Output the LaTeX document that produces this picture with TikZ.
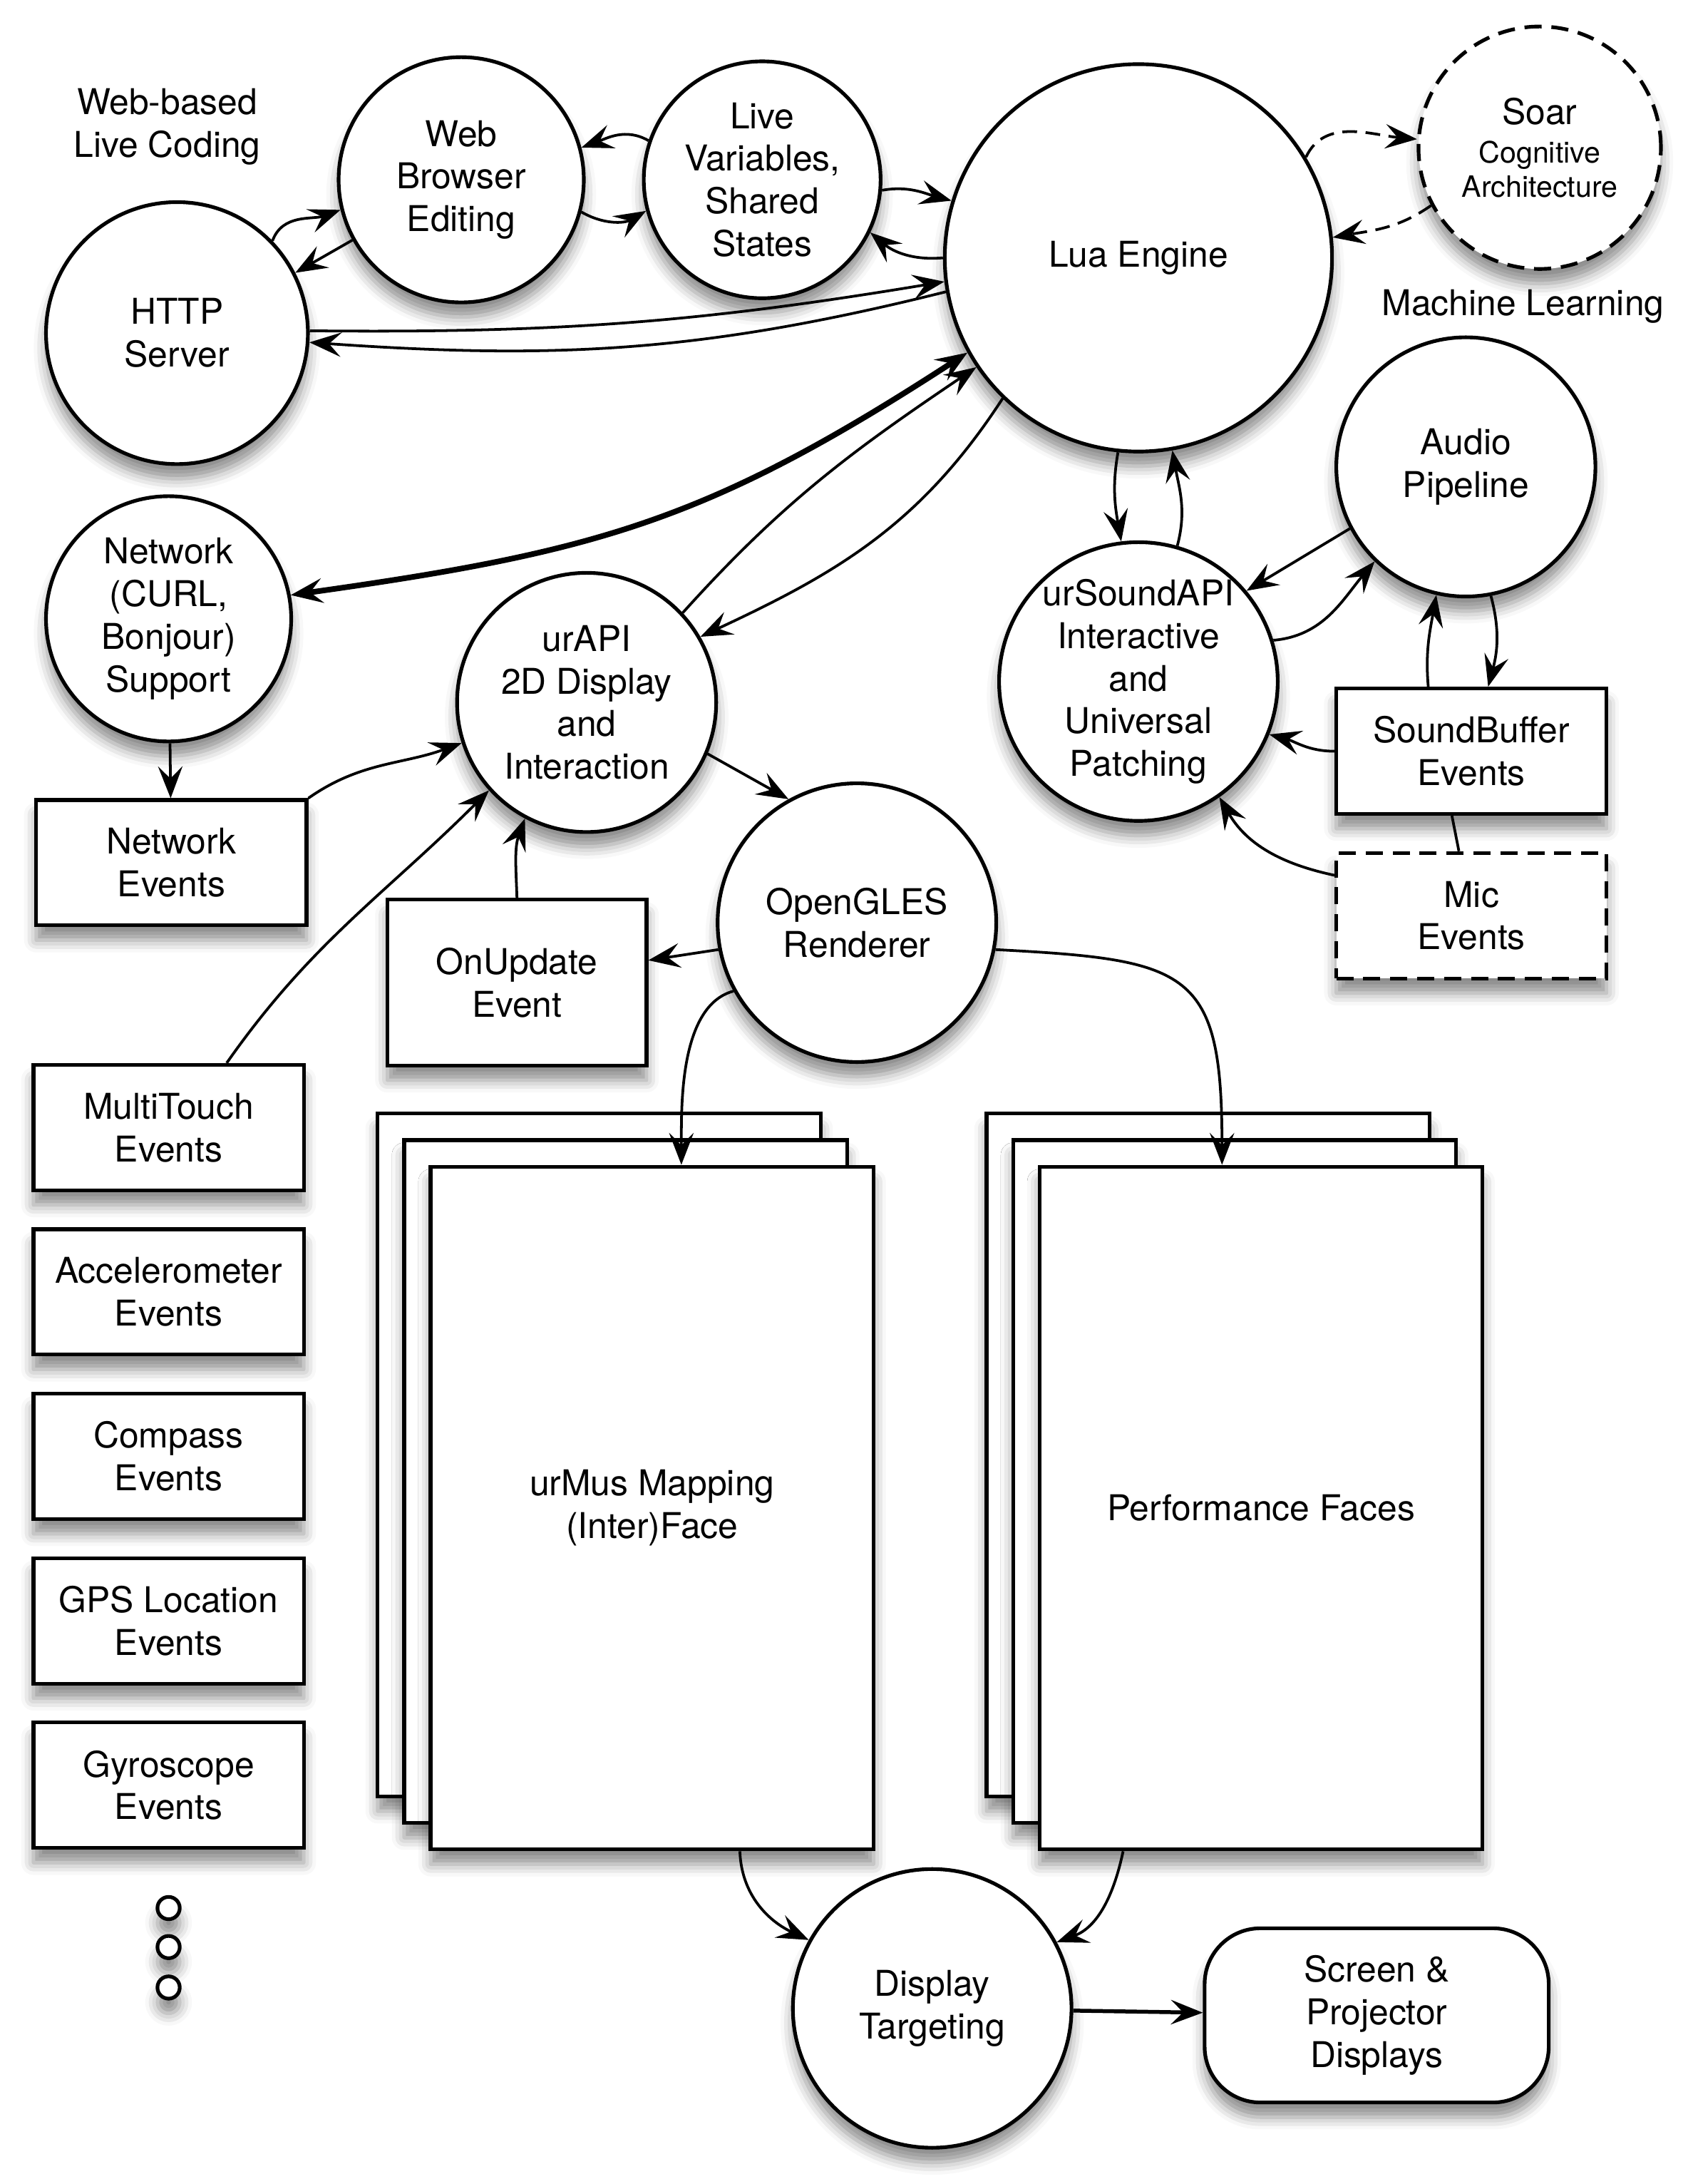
\documentclass[tikz,border=0pt]{standalone}
\usepackage{fontspec}
\setmainfont{TeX Gyre Heros}
\usetikzlibrary{arrows.meta,positioning,shadows.blur}
\newcommand{\soarsmall}[1]{{\fontsize{12}{14.4}\selectfont #1}}
\tikzset{
->, % every connector is directed
>={Stealth[length=13pt,width=10pt,inset=5pt]}, % sharp arrow heads
x=0.02cm, y=0.02cm, % one unit is one pixel of the layout
node distance=2.36cm, % spacing of the sensor event column
every node/.style={font=\fontsize{14.5}{17.4}\selectfont, align=center},
castshadow/.style={blur shadow={shadow xshift=0pt, shadow yshift=-6pt, shadow blur radius=5pt, shadow opacity=45}},
hub/.style={circle, draw, line width=1.5pt, fill=white, inner sep=0pt, castshadow}, % processing units
evbox/.style={rectangle, draw, line width=1.5pt, fill=white, minimum width=3.88cm, minimum height=1.8cm, castshadow}, % event sources
page/.style={rectangle, draw, line width=1.5pt, fill=white, minimum width=6.36cm, minimum height=9.8cm, castshadow},
dot/.style={circle, draw, line width=1.5pt, fill=white, minimum size=0.32cm, inner sep=0pt, castshadow},
dashedrim/.style={dash pattern=on 7pt off 4pt},
link/.style={line width=1.1pt},
soarlink/.style={dash pattern=on 6pt off 3.5pt},
}
\begin{document}
\begin{tikzpicture}
\useasboundingbox (0,0) rectangle (1215,-1567);
% engines and services
\node[hub, minimum size=3.76cm] (http) at (127,-239) {HTTP\\Server};
\node[hub, minimum size=3.52cm] (web) at (331,-129) {Web\\Browser\\Editing};
\node[hub, minimum size=3.4cm] (live) at (547,-129) {Live\\Variables,\\Shared\\States};
\node[hub, minimum size=5.56cm] (lua) at (817,-185) {Lua Engine};
\node[hub, dashedrim, minimum size=3.48cm] (soar) at (1105,-106) {Soar\\[-1.5pt]\soarsmall{Cognitive}\\[-3.5pt]\soarsmall{Architecture}};
\node[hub, minimum size=3.72cm] (audio) at (1052,-335) {Audio\\Pipeline};
\node[hub, minimum size=4cm, inner sep=-8pt] (ursound) at (817,-489) {urSoundAPI\\Interactive\\and\\Universal\\Patching};
\node[hub, minimum size=3.52cm] (net) at (121,-444) {Network\\(CURL,\\Bonjour)\\Support};
\node[hub, minimum size=3.72cm] (urapi) at (421,-504) {urAPI\\2D Display\\and\\Interaction};
\node[hub, minimum size=4cm] (gles) at (615,-662) {OpenGLES\\Renderer};
\node[hub, minimum size=4cm] (disp) at (669,-1441) {Display\\Targeting};
% events
\node[evbox] (netev) at (123,-619) {Network\\Events};
\node[evbox, minimum width=3.72cm, minimum height=2.38cm] (update) at (371,-705) {OnUpdate\\Event};
\node[evbox] (sndbuf) at (1056,-539) {SoundBuffer\\Events};
\node[evbox, dashedrim] (mic) at (1056,-657) {Mic\\Events};
\node[evbox] (touch) at (121,-809) {MultiTouch\\Events};
\node[evbox, below of=touch] (accel) {Accelerometer\\Events};
\node[evbox, below of=accel] (compass) {Compass\\Events};
\node[evbox, below of=compass] (gps) {GPS Location\\Events};
\node[evbox, below of=gps] (gyro) {Gyroscope\\Events};
\node[dot] (more1) at (121,-1369) {};
\node[dot] (more2) at (121,-1397) {};
\node[dot] (more3) at (121,-1426) {};
% faces
\node[page] (map3) at (430,-1044) {};
\node[page] (map2) at (449,-1063) {};
\node[page] (map) at (468,-1082) {urMus Mapping\\(Inter)Face};
\node[page] (perf3) at (867,-1044) {};
\node[page] (perf2) at (886,-1063) {};
\node[page] (perf) at (905,-1082) {Performance Faces};
\node[evbox, rounded corners=0.8cm, minimum width=4.94cm, minimum height=2.5cm] (screen) at (988,-1446) {Screen \&\\Projector\\Displays};
% captions
\node (webtag) at (120,-91) {Web-based\\Live Coding};
\node (mltag) at (1093,-220) {Machine Learning};

\path[link]
(http.44) edge[out=70, in=200] (web.194)
(web.209) edge (http.27)
(live.161) edge[out=150, in=20] (web.15)
(web.345) edge[out=-30, in=210] (live.195)
(live.-5) edge[out=10, in=165] (lua.163)
(lua.180) edge[out=185, in=320] (live.334)
(http.1) edge[bend right=5] (lua.187)
(lua.190) edge[out=194, in=-4] (http.-4)
(urapi.43) edge[out=48, in=214] (lua.214)
(lua.226) edge[out=237, in=25] (urapi.30)
(lua.264) edge[out=260, in=100] (ursound.97)
(ursound.74) edge[out=75, in=280] (lua.280)
(audio.208) edge (ursound.40)
(ursound.17) edge[out=5, in=230] (audio.226)
([xshift=-0.62cm]sndbuf.north) edge[out=95, in=260] (audio.257)
(audio.281) edge[out=285, in=75] ([xshift=0.24cm]sndbuf.north)
(sndbuf.west) edge[out=180, in=-15] (ursound.338)
([yshift=0.58cm]mic.west) edge[out=168, in=-60] (ursound.305)
([xshift=-0.28cm]sndbuf.south) edge[-] ([xshift=-0.18cm]mic.north)
(net) edge (netev)
(netev.north east) edge[out=35, in=200] (urapi.198)
(touch.48) edge[out=55, in=225] (urapi.222)
(update.north) edge[out=92, in=250] (urapi.242)
(urapi.337) edge (gles.119)
(gles.191) edge ([yshift=0.32cm]update.east)
(gles.209) edge[out=195, in=90, looseness=0.8] ([xshift=0.42cm]map.north)
(gles.349) edge[out=-3, in=90, looseness=1.6] ([xshift=-0.56cm]perf.north)
([xshift=1.26cm]map.south) edge[out=-88, in=155] (disp.151)
([xshift=-1.98cm]perf.south) edge[out=-102, in=20] (disp.28)
;
\path[link, soarlink]
(lua.31) edge[out=65, in=175] (soar.176)
(soar.208) edge[out=215, in=10] (lua.6)
;
\draw[link, line width=1.6pt] (disp) -- (screen);
\draw[link, line width=2.3pt, <->] (lua.209) to[out=213, in=8, looseness=1.1] (net.11);
\end{tikzpicture}
\end{document}
